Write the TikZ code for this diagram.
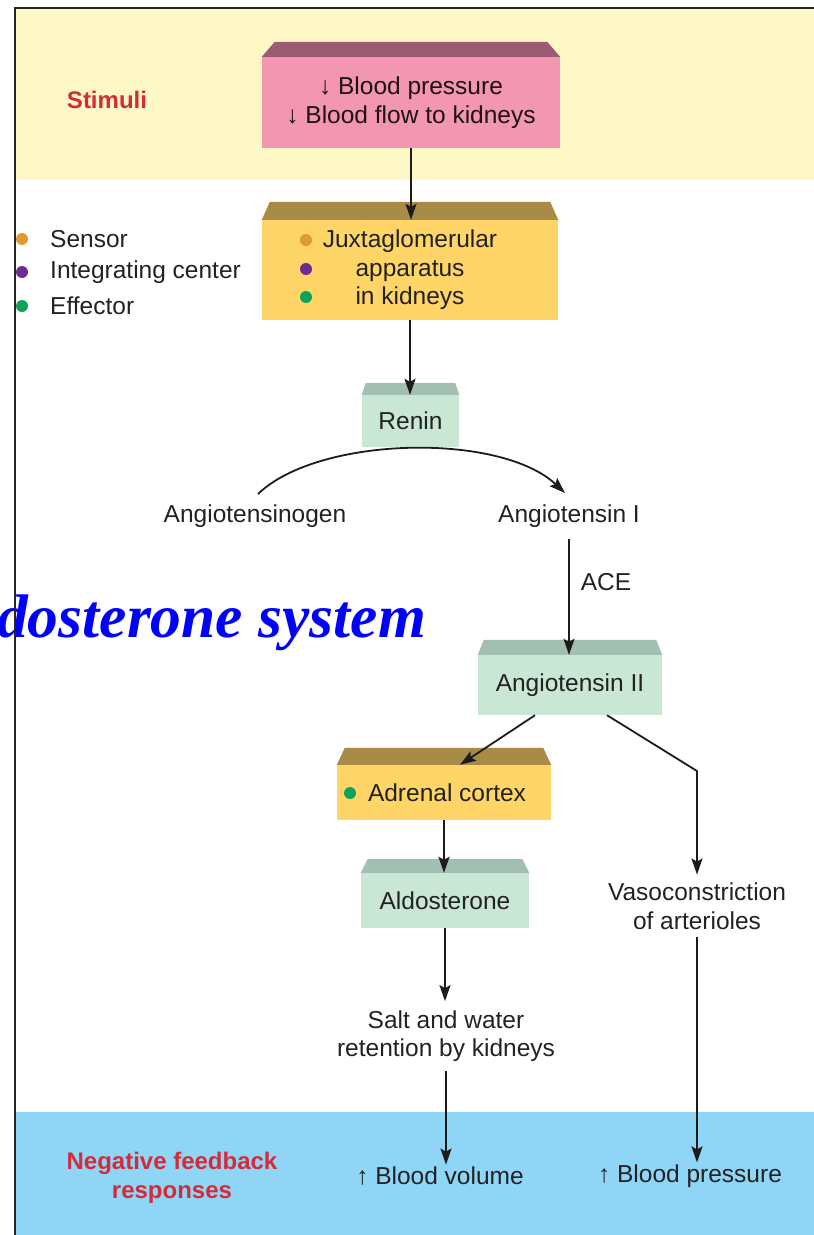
\documentclass[tikz,border=0pt]{standalone}
\usepackage{fontspec}
\setmainfont{Liberation Sans}
\newfontfamily\titlefont{Liberation Serif}
\usetikzlibrary{arrows.meta,calc}

\definecolor{bandyellow}{HTML}{FEF7C6}
\definecolor{bandblue}{HTML}{8FD5F6}
\definecolor{pinkfront}{HTML}{F296B1}
\definecolor{pinktop}{HTML}{9B5B70}
\definecolor{yelfront}{HTML}{FED566}
\definecolor{yeltop}{HTML}{A88B47}
\definecolor{mintfront}{HTML}{C9E7D4}
\definecolor{minttop}{HTML}{A3BFB1}
\definecolor{labelred}{HTML}{D42B3A}
\definecolor{inkgray}{HTML}{222222}
\definecolor{linecol}{HTML}{1C1C1C}
\definecolor{dotorange}{HTML}{E09A30}
\definecolor{dotpurple}{HTML}{6B2D91}
\definecolor{dotgreen}{HTML}{0DA35A}

% lid of a 3-D box: trapezoid sitting on the node's top edge
\newcommand\boxlid[4]{%
  \fill[#2] (#1.north west) -- (#1.north east)
    -- ($(#1.north east)+(-#3,-#4)$) -- ($(#1.north west)+(#3,-#4)$) -- cycle;}

\tikzset{
  txt/.style={font=\fontsize{24.5}{28.5}\selectfont, text=inkgray, align=center, inner sep=2pt},
  redlbl/.style={font=\bfseries\fontsize{24}{29}\selectfont, text=labelred, align=center, inner sep=2pt},
  boxnode/.style={txt, rectangle, inner sep=0pt},
  conn/.style={line width=1.8pt, draw=linecol, -{Stealth[length=16pt,width=11pt,inset=3pt]}},
  legdot/.style={radius=6pt},
}

\begin{document}
\begin{tikzpicture}[x=1pt,y=-1pt]
\useasboundingbox (0,0) rectangle (814,1235);

% background bands
\fill[bandyellow] (15,8) rectangle (814,180);
\fill[bandblue] (15,1112) rectangle (814,1235);

% title text running off the left edge
\node[anchor=base west, inner sep=0pt, text=blue,
      font=\titlefont\bfseries\itshape\fontsize{61.5}{61.5}\selectfont] (title) at (-3,637) {dosterone system};

% boxes
\node[boxnode, fill=pinkfront, text=black!80!pinktop, minimum width=298, minimum height=91] (stim) at (411,102.5)
  {↓ Blood pressure\\↓ Blood flow to kidneys};
\boxlid{stim}{pinktop}{13}{15}

\node[boxnode, fill=yelfront, minimum width=296, minimum height=100] (jga) at (410,270)
  {Juxtaglomerular\\apparatus\\in kidneys};
\boxlid{jga}{yeltop}{8}{18}
\fill[dotorange] (306,240) circle[legdot];
\fill[dotpurple] (306,269) circle[legdot];
\fill[dotgreen] (306,297) circle[legdot];

\node[boxnode, fill=mintfront, minimum width=97, minimum height=52] (renin) at (410.5,421) {Renin};
\boxlid{renin}{minttop}{4}{12}

\node[boxnode, fill=mintfront, minimum width=184, minimum height=60] (ang2) at (570,685) {Angiotensin II};
\boxlid{ang2}{minttop}{6}{15}

\node[boxnode, fill=yelfront, minimum width=214, minimum height=55] (adr) at (444,792.5) {\hspace*{6pt}Adrenal cortex};
\boxlid{adr}{yeltop}{8}{17}
\fill[dotgreen] (350,793) circle[legdot];

\node[boxnode, fill=mintfront, minimum width=168, minimum height=55] (ald) at (445,900.5) {Aldosterone};
\boxlid{ald}{minttop}{7}{14}

% legend
\fill[dotorange] (22,239) circle[legdot];
\fill[dotpurple] (22,272) circle[legdot];
\fill[dotgreen] (22,306) circle[legdot];
\node[txt, anchor=west, inner sep=0pt] (lsens) at (50,239) {Sensor};
\node[txt, anchor=west, inner sep=0pt] (lint) at (50,272) {Integrating center};
\node[txt, anchor=west, inner sep=0pt] (leff) at (50,306) {Effector};

% side labels
\node[redlbl] (stimuli) at (107,100) {Stimuli};
\node[redlbl] (negfb) at (172,1178) {Negative feedback\\responses};

% free text
\node[txt] (ogen) at (255,516) {Angiotensinogen};
\node[txt] (ang1) at (569,516) {Angiotensin I};
\node[txt] (ace) at (606,582) {ACE};
\node[txt] (vaso) at (697,906) {Vasoconstriction\\of arterioles};
\node[txt] (salt) at (446,1036) {Salt and water\\retention by kidneys};
\node[txt] (bv) at (440,1176) {↑ Blood volume};
\node[txt] (bp) at (690,1176) {↑ Blood pressure};

% connectors
\coordinate (arcA) at (258,494);
\coordinate (arcB) at (565,493);
\coordinate (bend) at (697,771);

\draw[conn] (stim.south) -- (stim.south |- jga.north);
\draw[conn] (jga.south) -- (jga.south |- renin.north);
\draw[conn] (arcA) .. controls (318,436) and (500,432) .. (arcB);
\draw[conn] ([yshift=-9pt]ang1.south) -- (ang1.south |- ang2.north);
\draw[conn] ($(ang2.south)+(-35,0)$) -- ($(adr.north)+(16,0)$);
\draw[conn] ($(ang2.south)+(37,0)$) -- (bend) -- ([yshift=6pt]vaso.north);
\draw[conn] (adr.south) -- (adr.south |- ald.north);
\draw[conn] (ald.south) -- ([yshift=7pt]ald.south |- salt.north);
\draw[conn] ([yshift=-7pt]salt.south) -- (salt.south |- bv.north);
\draw[conn] ([yshift=-6pt]vaso.south) -- (vaso.south |- bp.north);

% frame
\draw[line width=2pt, black!85] (15,1240) -- (15,8) -- (820,8);
\end{tikzpicture}
\end{document}
